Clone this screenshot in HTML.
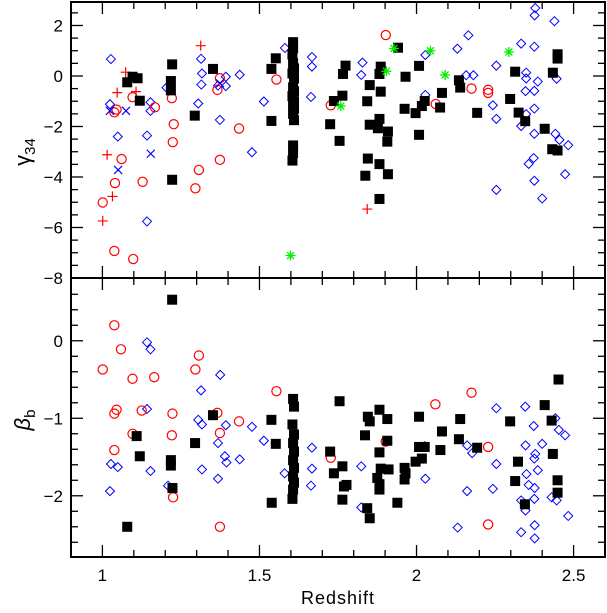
<!DOCTYPE html>
<html><head><meta charset="utf-8"><style>
html,body{margin:0;padding:0;background:#fff;}
svg text{font-family:"Liberation Sans",sans-serif;}
</style></head><body>
<svg id="chart" width="607" height="608" viewBox="0 0 607 608" xmlns="http://www.w3.org/2000/svg"></svg>
<script>
// ---- data: [redshift, value] ----
const topSquares=[[1.079,-0.25],[1.096,-0.03],[1.112,-0.09],[1.119,-0.98],[1.222,0.46],[1.218,-0.2],[1.218,-0.57],[1.222,-4.11],[1.294,-1.57],[1.352,0.28],[1.552,0.7],[1.538,0.28],[1.538,-1.78],
[1.607,1.34],[1.607,1.1],[1.605,0.85],[1.607,0.5],[1.61,0.3],[1.605,0.1],[1.61,-0.1],[1.607,-0.45],[1.61,-0.6],[1.605,-0.8],[1.61,-1.0],[1.607,-1.15],[1.61,-1.3],[1.607,-1.5],[1.61,-1.75],[1.607,-2.75],[1.607,-3.05],[1.605,-3.35],
[1.725,-1.91],[1.737,-0.99],[1.764,-0.78],[1.755,-2.57],[1.774,0.41],[1.766,0.08],[1.843,-1.0],[1.851,-0.36],[1.851,-1.93],[1.877,-2.07],[1.882,-1.7],[1.886,-0.62],[1.886,0.37],[1.882,0.08],[1.909,-2.2],[1.907,-2.6],[1.845,-3.27],[1.882,-3.49],[1.837,-3.95],[1.909,-3.89],[1.882,-4.87],[1.941,1.12],[1.965,-0.03],[1.962,-1.3],[2.008,0.4],[1.997,-1.47],[2.008,-2.33],[2.026,-0.99],[2.017,-1.19],[2.081,-0.67],[2.075,-1.25],[2.135,-0.17],[2.139,-0.46],[2.193,-1.46],[2.314,0.17],[2.298,-0.91],[2.325,-1.45],[2.346,-1.79],[2.408,-2.09],[2.434,0.13],[2.449,0.86],[2.449,0.69],[2.432,-2.9],[2.449,-2.95]];
const topCircles=[[1.038,-1.44],[1.045,-1.33],[1.096,-0.84],[1.167,-1.24],[1.221,-0.88],[1.227,-1.91],[1.224,-2.62],[1.061,-3.29],[1.04,-4.24],[1.128,-4.19],[1.001,-5.01],[1.038,-6.93],[1.098,-7.25],[1.307,-3.72],[1.296,-4.45],[1.374,-3.32],[1.366,-0.55],[1.374,-0.09],[1.435,-2.08],[1.554,-0.14],[1.902,1.62],[1.727,-1.16],[2.061,-1.11],[2.175,-0.5],[2.228,-0.55],[2.228,-0.67]];
const topDiamonds=[[1.027,0.67],[1.024,-1.12],[1.049,-2.4],[1.142,-2.36],[1.153,-1.04],[1.153,-1.38],[1.142,-5.76],[1.314,0.68],[1.317,0.1],[1.315,-0.34],[1.305,-1.09],[1.374,-1.74],[1.368,-0.38],[1.393,-0.03],[1.393,-0.4],[1.437,0.05],[1.476,-3.02],[1.514,-1.01],[1.581,1.11],[1.204,-0.46],
[1.667,0.75],[1.667,0.37],[1.664,-0.83],[1.828,0.53],[1.824,0.04],[2.028,0.83],[2.028,-0.75],[2.13,1.08],[2.165,1.61],[2.158,0.03],[2.181,0.03],[2.254,0.41],[2.243,-1.16],[2.254,-1.7],[2.254,-4.51],[2.333,1.28],[2.375,1.16],[2.378,2.69],[2.376,2.4],[2.439,2.17],[2.349,0.13],[2.349,-0.1],[2.386,-0.22],[2.347,-0.6],[2.375,-0.59],[2.375,-1.29],[2.349,-1.51],[2.333,-1.98],[2.375,-2.29],[2.446,-0.11],[2.442,-2.29],[2.455,-2.53],[2.483,-2.74],[2.373,-3.25],[2.357,-3.48],[2.473,-3.89],[2.375,-4.15],[2.4,-4.85]];
const topCrosses=[[1.024,-1.38],[1.075,-1.38],[1.05,-3.72],[1.154,-3.08],[1.374,-0.29]];
const topPluses=[[1.074,0.15],[1.047,-0.66],[1.107,-0.62],[1.313,1.2],[1.015,-3.12],[1.032,-4.77],[1.001,-5.74],[1.843,-5.27]];
const topStars=[[1.599,-7.11],[1.759,-1.19],[1.904,0.19],[1.928,1.09],[2.044,1.0],[2.091,0.04],[2.294,0.95]];
const botSquares=[[1.222,0.53],[1.079,-2.4],[1.109,-1.23],[1.119,-1.49],[1.218,-1.54],[1.218,-1.61],[1.223,-1.9],[1.295,-1.32],[1.352,-0.96],[1.538,-1.02],[1.552,-1.33],[1.539,-2.09],
[1.607,-0.75],[1.61,-0.85],[1.605,-1.08],[1.61,-1.21],[1.607,-1.32],[1.61,-1.43],[1.607,-1.54],[1.61,-1.64],[1.607,-1.75],[1.61,-1.83],[1.607,-1.92],[1.605,-2.04],
[1.755,-0.78],[1.725,-1.43],[1.737,-1.71],[1.764,-1.62],[1.769,-1.88],[1.777,-1.86],[1.764,-2.05],[1.845,-0.98],[1.851,-1.04],[1.836,-1.22],[1.882,-0.89],[1.907,-1.01],[1.907,-1.29],[1.882,-1.44],[1.886,-1.65],[1.911,-1.66],[1.875,-1.77],[1.882,-1.85],[1.882,-1.92],[1.843,-2.16],[1.851,-2.29],[1.939,-2.09],[1.962,-1.64],[1.965,-1.71],[1.962,-1.79],[2.008,-0.98],[1.997,-1.56],[2.008,-1.37],[2.026,-1.37],[2.017,-1.52],[2.081,-1.17],[2.076,-1.41],[2.139,-1.01],[2.135,-1.27],[2.193,-1.38],[2.298,-1.04],[2.323,-1.56],[2.314,-1.81],[2.345,-2.11],[2.408,-0.83],[2.43,-1.03],[2.434,-1.46],[2.449,-1.8],[2.449,-1.96],[2.452,-0.5]];
const botCircles=[[1.038,0.2],[1.059,-0.11],[1.001,-0.37],[1.096,-0.49],[1.165,-0.47],[1.307,-0.19],[1.296,-0.37],[1.045,-0.89],[1.038,-0.94],[1.125,-0.9],[1.223,-0.94],[1.096,-1.2],[1.221,-1.22],[1.038,-1.41],[1.225,-2.02],[1.374,-2.4],[1.366,-0.93],[1.374,-1.19],[1.435,-1.04],[1.554,-0.65],[1.727,-1.51],[1.902,-1.3],[2.06,-0.82],[2.175,-0.67],[2.228,-1.37],[2.228,-2.37]];
const botDiamonds=[[1.142,-0.02],[1.153,-0.11],[1.314,-0.64],[1.375,-0.44],[1.142,-0.88],[1.305,-1.02],[1.317,-1.08],[1.393,-1.09],[1.476,-1.11],[1.514,-1.29],[1.368,-1.32],[1.39,-1.49],[1.395,-1.57],[1.437,-1.53],[1.027,-1.59],[1.049,-1.63],[1.153,-1.68],[1.317,-1.66],[1.368,-1.78],[1.58,-1.71],[1.209,-1.87],[1.024,-1.94],
[1.667,-1.38],[1.667,-1.65],[1.664,-1.87],[1.824,-1.62],[1.824,-2.15],[2.026,-1.36],[2.028,-1.78],[2.131,-2.41],[2.161,-1.94],[2.161,-1.35],[2.177,-1.45],[2.254,-0.87],[2.254,-1.59],[2.243,-1.91],[2.346,-0.85],[2.373,-1.1],[2.347,-1.35],[2.4,-1.33],[2.378,-1.46],[2.375,-1.52],[2.386,-1.67],[2.35,-1.72],[2.357,-1.86],[2.376,-1.9],[2.333,-2.06],[2.375,-2.04],[2.347,-2.19],[2.376,-2.38],[2.333,-2.47],[2.376,-2.55],[2.442,-1.0],[2.453,-1.15],[2.473,-1.22],[2.43,-2.02],[2.446,-2.06],[2.483,-2.26]];
const xTickLabels=[1,1.5,2,2.5];
const topTickLabels=[2,0,-2,-4,-6,-8];
const botTickLabels=[0,-1,-2];

// ---- axes ----
const L=71,R=605;
const X=z=>L+(z-0.9)/(2.6-0.9)*(R-L);
const topP={y0:2,y1:278,vmax:2.93,vmin:-8};
const botP={y0:278,y1:557,vmax:0.81,vmin:-2.79};
const Y=(p,v)=>p.y0+(p.vmax-v)/(p.vmax-p.vmin)*(p.y1-p.y0);
const svg=document.getElementById('chart');
const NS='http://www.w3.org/2000/svg';
function mk(tag,attrs,parent){const e=document.createElementNS(NS,tag);for(const k in attrs)e.setAttribute(k,attrs[k]);(parent||svg).appendChild(e);return e;}

function drawPanel(p,name,majorStep,minorStep,labels){
  const g=mk('g',{});
  
  
  const fr=mk('rect',{x:L,y:p.y0,width:R-L,height:p.y1-p.y0,fill:'none',stroke:'#000','stroke-width':2},g);
  
  
  for(let z=0.9;z<=2.601;z+=0.1){
    const major=Math.abs(z*2-Math.round(z*2))<0.01;const len=major?12:7;const x=X(z);
    mk('line',{x1:x,x2:x,y1:p.y1,y2:p.y1-len,stroke:'#000','stroke-width':1.3},g);
    mk('line',{x1:x,x2:x,y1:p.y0,y2:p.y0+len,stroke:'#000','stroke-width':1.3},g);
  }
  for(let v=Math.ceil(p.vmin/minorStep)*minorStep;v<=p.vmax+1e-6;v+=minorStep){
    const major=Math.abs(v/majorStep-Math.round(v/majorStep))<0.01;const len=major?12:7;const y=Y(p,v);
    if(y<p.y0+1||y>p.y1-1)continue;
    mk('line',{x1:L,x2:L+len,y1:y,y2:y,stroke:'#000','stroke-width':1.3},g);
    mk('line',{x1:R,x2:R-len,y1:y,y2:y,stroke:'#000','stroke-width':1.3},g);
  }
  labels.forEach(v=>{
    const t=mk('text',{x:L-8,y:Y(p,v)+6,'text-anchor':'end','font-size':17},g);
    t.textContent=(v<0?'\u2212'+(-v):v);
    
    
  });
  return g;
}
drawPanel(topP,'gamma34',2,0.5,topTickLabels);
drawPanel(botP,'beta-b',1,0.2,botTickLabels);
xTickLabels.forEach(z=>{
  const t=mk('text',{x:X(z),y:581,'text-anchor':'middle','font-size':17});
  t.textContent=z;
  
  
});
const xt=mk('text',{x:X(1.75),y:604,'text-anchor':'middle','font-size':18,'letter-spacing':'1'});
xt.textContent='Redshift';


const yt1=mk('text',{x:0,y:0,'font-size':22,transform:'translate(30,152) rotate(-90)','text-anchor':'middle'});
yt1.innerHTML='γ<tspan font-size="15" dy="5">34</tspan>';


const yt2=mk('text',{x:0,y:0,'font-size':22,'font-style':'italic',transform:'translate(30,420) rotate(-90)','text-anchor':'middle'});
yt2.innerHTML='β<tspan font-size="15" dy="5" font-style="normal">b</tspan>';



function marker(type,x,y){
  let e;
  if(type==='square'){e=mk('rect',{x:x-5,y:y-5,width:10,height:10,fill:'#000'});}
  else if(type==='circle'){e=mk('circle',{cx:x,cy:y,r:4.6,fill:'none',stroke:'#f00','stroke-width':1.2});}
  else if(type==='diamond'){e=mk('path',{d:`M${x},${y-4.5}L${x+4.5},${y}L${x},${y+4.5}L${x-4.5},${y}Z`,fill:'none',stroke:'#00f','stroke-width':1});}
  else if(type==='cross'){e=mk('path',{d:`M${x-4},${y-4}L${x+4},${y+4}M${x-4},${y+4}L${x+4},${y-4}`,stroke:'#00f','stroke-width':1.2});}
  else if(type==='plus'){e=mk('path',{d:`M${x-5},${y}L${x+5},${y}M${x},${y-5}L${x},${y+5}`,stroke:'#f00','stroke-width':1.2});}
  else {e=mk('path',{d:`M${x-5},${y}L${x+5},${y}M${x},${y-5}L${x},${y+5}M${x-3.5},${y-3.5}L${x+3.5},${y+3.5}M${x-3.5},${y+3.5}L${x+3.5},${y-3.5}`,stroke:'#0e0','stroke-width':1.3});}
  return e;
}
function series(data,p,type,name){
  data.forEach(d=>{
    const e=marker(type,X(d[0]),Y(p,d[1]));
    
    
  });
}
series(topDiamonds,topP,'diamond','gamma34-diamond-point');
series(topCircles,topP,'circle','gamma34-circle-point');
series(topCrosses,topP,'cross','gamma34-cross-point');
series(topPluses,topP,'plus','gamma34-plus-point');
series(topSquares,topP,'square','gamma34-square-point');
series(topStars,topP,'star','gamma34-star-point');
series(botDiamonds,botP,'diamond','beta-b-diamond-point');
series(botCircles,botP,'circle','beta-b-circle-point');
series(botSquares,botP,'square','beta-b-square-point');
</script>
</body></html>
